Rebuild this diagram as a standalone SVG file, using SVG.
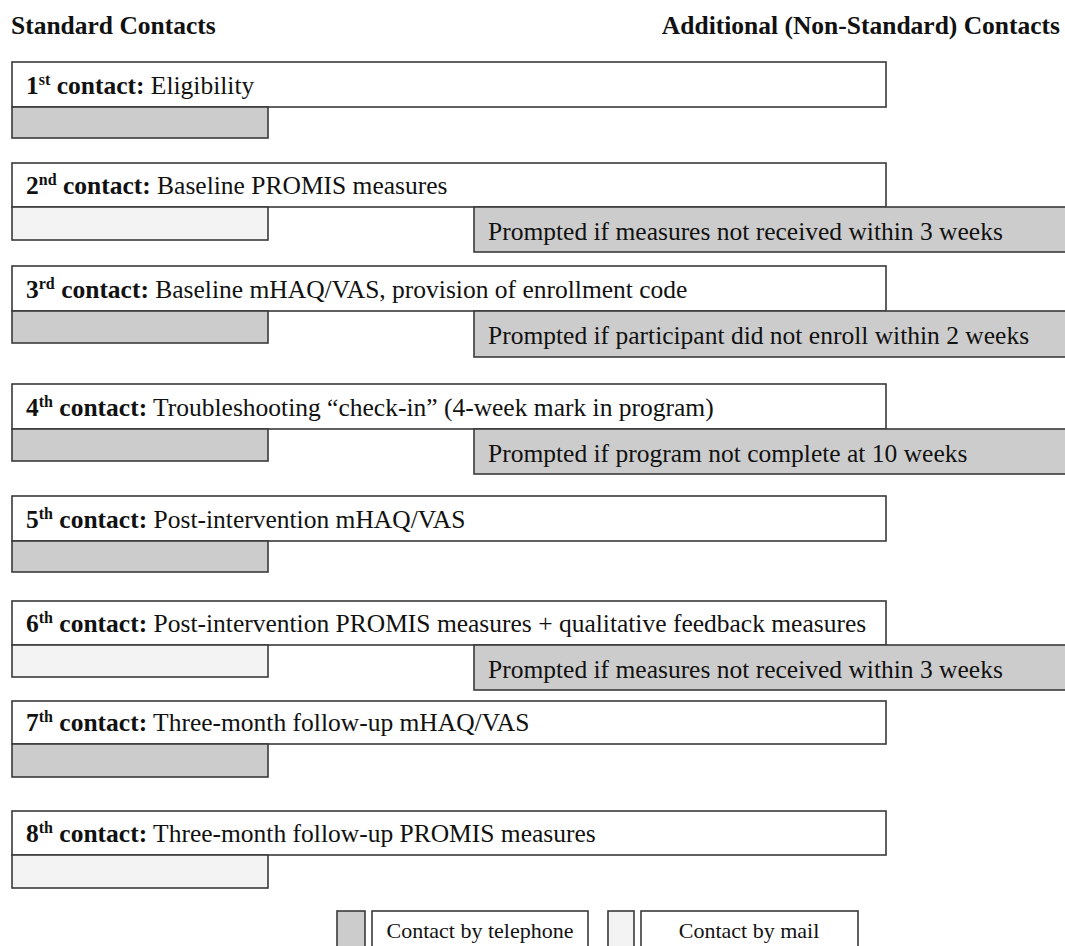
<svg xmlns="http://www.w3.org/2000/svg" width="1065" height="946" viewBox="0 0 1065 946">
<style>
text{font-family:"Liberation Serif","Times New Roman",serif;fill:#111;}
.hd{font-size:25.5px;font-weight:bold;}
.t{font-size:25.5px;}
.b{font-weight:bold;}
.sup{font-size:16px;font-weight:bold;}
.lg{font-size:22px;}
rect{stroke:#3a3a3a;stroke-width:1.6;}
.main{fill:#ffffff;}
.ph{fill:#cccccc;}
.ml{fill:#f3f3f3;}
.pr{fill:#cccccc;}
</style>
<rect width="1065" height="946" fill="#ffffff" style="stroke:none"/>
<text class="hd" x="11" y="34">Standard Contacts</text>
<text class="hd" x="1060" y="34" text-anchor="end">Additional (Non-Standard) Contacts</text>

<g id="contact1">
<rect class="main" x="12" y="62" width="874" height="45"/>
<rect class="ph" x="12" y="107" width="256" height="31"/>
<text class="t" x="26" y="94"><tspan class="b">1</tspan><tspan class="sup" dy="-9">st</tspan><tspan class="b" dy="9"> contact:</tspan> Eligibility</text>
</g>

<g id="contact2">
<rect class="main" x="12" y="163" width="874" height="44"/>
<rect class="ml" x="12" y="207" width="256" height="33"/>
<text class="t" x="26" y="194"><tspan class="b">2</tspan><tspan class="sup" dy="-9">nd</tspan><tspan class="b" dy="9"> contact:</tspan> Baseline PROMIS measures</text>
</g>
<g id="prompt2">
<rect class="pr" x="474" y="207" width="600" height="45"/>
<text class="t" x="488" y="240">Prompted if measures not received within 3 weeks</text>
</g>

<g id="contact3">
<rect class="main" x="12" y="266" width="874" height="45"/>
<rect class="ph" x="12" y="311" width="256" height="32"/>
<text class="t" x="26" y="298"><tspan class="b">3</tspan><tspan class="sup" dy="-9">rd</tspan><tspan class="b" dy="9"> contact:</tspan> Baseline mHAQ/VAS, provision of enrollment code</text>
</g>
<g id="prompt3">
<rect class="pr" x="474" y="311" width="600" height="46"/>
<text class="t" x="488" y="344">Prompted if participant did not enroll within 2 weeks</text>
</g>

<g id="contact4">
<rect class="main" x="12" y="384" width="874" height="45"/>
<rect class="ph" x="12" y="429" width="256" height="32"/>
<text class="t" x="26" y="416"><tspan class="b">4</tspan><tspan class="sup" dy="-9">th</tspan><tspan class="b" dy="9"> contact:</tspan> Troubleshooting “check-in” (4-week mark in program)</text>
</g>
<g id="prompt4">
<rect class="pr" x="474" y="429" width="600" height="45"/>
<text class="t" x="488" y="462">Prompted if program not complete at 10 weeks</text>
</g>

<g id="contact5">
<rect class="main" x="12" y="496" width="874" height="45"/>
<rect class="ph" x="12" y="541" width="256" height="31"/>
<text class="t" x="26" y="528"><tspan class="b">5</tspan><tspan class="sup" dy="-9">th</tspan><tspan class="b" dy="9"> contact:</tspan> Post-intervention mHAQ/VAS</text>
</g>

<g id="contact6">
<rect class="main" x="12" y="601" width="874" height="44"/>
<rect class="ml" x="12" y="645" width="256" height="32"/>
<text class="t" x="26" y="632"><tspan class="b">6</tspan><tspan class="sup" dy="-9">th</tspan><tspan class="b" dy="9"> contact:</tspan> Post-intervention PROMIS measures + qualitative feedback measures</text>
</g>
<g id="prompt6">
<rect class="pr" x="474" y="645" width="600" height="45"/>
<text class="t" x="488" y="678">Prompted if measures not received within 3 weeks</text>
</g>

<g id="contact7">
<rect class="main" x="12" y="701" width="874" height="43"/>
<rect class="ph" x="12" y="744" width="256" height="33"/>
<text class="t" x="26" y="731"><tspan class="b">7</tspan><tspan class="sup" dy="-9">th</tspan><tspan class="b" dy="9"> contact:</tspan> Three-month follow-up mHAQ/VAS</text>
</g>

<g id="contact8">
<rect class="main" x="12" y="811" width="874" height="44"/>
<rect class="ml" x="12" y="855" width="256" height="33"/>
<text class="t" x="26" y="842"><tspan class="b">8</tspan><tspan class="sup" dy="-9">th</tspan><tspan class="b" dy="9"> contact:</tspan> Three-month follow-up PROMIS measures</text>
</g>

<g id="legend-telephone">
<rect class="ph" x="337" y="911" width="28" height="40"/>
<rect class="main" x="372" y="911" width="216" height="40"/>
<text class="lg" x="480" y="938" text-anchor="middle">Contact by telephone</text>
</g>
<g id="legend-mail">
<rect class="ml" x="608" y="911" width="26" height="40"/>
<rect class="main" x="641" y="911" width="217" height="40"/>
<text class="lg" x="749" y="938" text-anchor="middle">Contact by mail</text>
</g>
<g id="connectors"></g>
</svg>
